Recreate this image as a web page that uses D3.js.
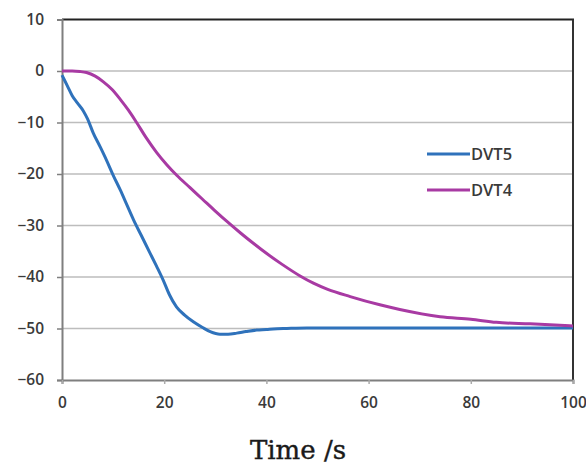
<!DOCTYPE html>
<html><head><meta charset="utf-8">
<script src="https://cdn.jsdelivr.net/npm/d3@7"></script>
<style>body{margin:0;background:#fff}svg{display:block}</style>
</head><body>
<svg id="c" width="586" height="464"></svg>
<script>
const xTicks = [0, 20, 40, 60, 80, 100];
const yTicks = [10, 0, -10, -20, -30, -40, -50, -60];
const seriesNames = ["DVT5", "DVT4"];
const dvt5Time = [0, 1, 2, 3, 4.2, 5, 6.1, 7.5, 8.7, 10, 11.4, 12.7, 14, 15.5, 17.2, 18.5, 19.8, 21, 22.4, 24, 25.7, 27.5, 29, 30.9, 32.5, 34.2, 36, 38.1, 40, 41.3, 44, 47.9, 60, 80, 100];
const dvt5Vals = [-0.8, -2.8, -4.8, -6.2, -7.8, -9.3, -12.0, -14.8, -17.3, -20.2, -23.1, -26, -28.9, -31.9, -35.3, -37.9, -40.6, -43.4, -45.8, -47.4, -48.7, -49.8, -50.6, -51.1, -51.1, -50.9, -50.6, -50.3, -50.2, -50.1, -50.0, -49.9, -49.9, -49.9, -49.9];
const dvt4Time = [0, 2, 3.5, 4.8, 6.5, 8.1, 9.8, 11.4, 13, 14.6, 16.5, 18.5, 20.5, 22.5, 25, 27.5, 30, 32.5, 35, 37.5, 40, 43, 46.6, 49.2, 52, 56.4, 62.2, 66.1, 74, 80, 85, 91.6, 100];
const dvt4Vals = [0, 0, -0.1, -0.3, -1, -2.1, -3.6, -5.5, -7.6, -10, -13, -15.8, -18.2, -20.3, -22.6, -24.9, -27.2, -29.4, -31.5, -33.5, -35.4, -37.5, -39.8, -41.2, -42.4, -43.8, -45.4, -46.3, -47.7, -48.2, -48.8, -49.1, -49.5];
const colors = ["#2f72bb", "#a83aa3"];

const svg = d3.select("#c");
const L = 62, R = 573, T = 19.5, B = 380;
const x = d3.scaleLinear().domain([0, 100]).range([L, R]);
const y = d3.scaleLinear().domain([-60, 10]).range([B, T]);
const labelFont = "'Open Sans', sans-serif";

// gridlines
svg.append("g").selectAll("line").data(yTicks.filter(v => v > -60 && v < 10)).join("line")
  .attr("x1", L).attr("x2", R).attr("y1", d => y(d)).attr("y2", d => y(d))
  .attr("stroke", "#bdbdbd").attr("stroke-width", 1.5);

// top & right border
svg.append("line").attr("x1", L).attr("x2", R + 1).attr("y1", y(10)).attr("y2", y(10)).attr("stroke", "#222").attr("stroke-width", 2);
svg.append("line").attr("x1", R).attr("x2", R).attr("y1", y(10)).attr("y2", B).attr("stroke", "#333").attr("stroke-width", 2);

// axes
const yAxis = d3.axisLeft(y).tickValues(yTicks).tickSize(5).tickPadding(13).tickFormat(d3.format("d"));
const gy = svg.append("g").attr("transform", `translate(${L},0)`).call(yAxis);
gy.select(".domain").attr("stroke", "#7f7f7f").attr("stroke-width", 2);
gy.selectAll(".tick line").attr("stroke", "#7f7f7f").attr("stroke-width", 1.5);
gy.selectAll("text").attr("font-family", labelFont).attr("font-size", 15.5).attr("font-weight", 600).attr("fill", "#3a3a3a");

const xAxis = d3.axisBottom(x).tickValues(xTicks).tickSize(4).tickPadding(13).tickFormat(d3.format("d"));
const gx = svg.append("g").attr("transform", `translate(0,${B})`).call(xAxis);
gx.select(".domain").attr("stroke", "#7f7f7f").attr("stroke-width", 2);
gx.selectAll(".tick line").attr("stroke", "#aaa").attr("stroke-width", 1.5);
gx.selectAll("text").attr("font-family", labelFont).attr("font-size", 15.5).attr("font-weight", 600).attr("fill", "#3a3a3a");

// lines
const line = d3.line().curve(d3.curveMonotoneX).x(d => x(d[0])).y(d => y(d[1]));
const data = [d3.zip(dvt5Time, dvt5Vals), d3.zip(dvt4Time, dvt4Vals)];
svg.append("g").selectAll("path").data(data).join("path")
  .attr("d", line).attr("fill", "none")
  .attr("stroke", (d, i) => colors[i]).attr("stroke-width", 3).attr("stroke-linejoin", "round");

// legend
const lg = svg.append("g").selectAll("g").data(seriesNames).join("g")
  .attr("transform", (d, i) => `translate(427,${154 + i * 36})`);
lg.append("line").attr("x1", 0).attr("x2", 43).attr("stroke", (d, i) => colors[i]).attr("stroke-width", 3);
lg.append("text").attr("x", 44).attr("dy", "0.36em").text(d => d)
  .attr("font-family", labelFont).attr("font-size", 16.5).attr("font-weight", 600).attr("fill", "#3a3a3a");

// x title
svg.append("text").attr("x", 298).attr("y", 459).attr("text-anchor", "middle")
  .attr("font-family", "'DejaVu Serif', serif").attr("font-size", 26).attr("fill", "#1a1a1a")
  .attr("stroke", "#1a1a1a").attr("stroke-width", 0.4).text("Time /s");
</script>
</body></html>
